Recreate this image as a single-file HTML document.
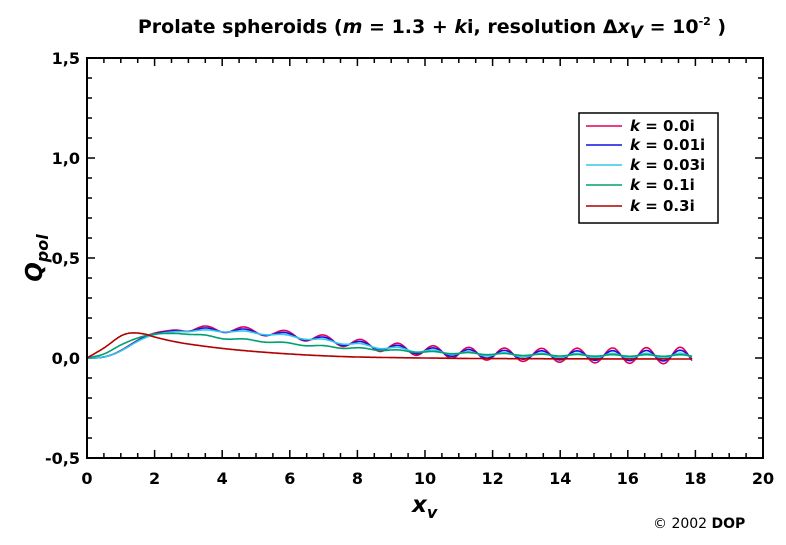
<!DOCTYPE html>
<html><head><meta charset="utf-8"><style>
html,body{margin:0;padding:0;background:#fff;}
svg{display:block;font-family:"DejaVu Sans","Liberation Sans",sans-serif;}
</style></head><body>
<svg id="s" width="786" height="545" viewBox="0 0 786 545" xmlns="http://www.w3.org/2000/svg">
<rect width="786" height="545" fill="#fff"/>
<text x="432" y="33" text-anchor="middle" font-size="19" font-weight="bold">Prolate spheroids (<tspan font-style="italic">m</tspan> = 1.3 + <tspan font-style="italic">k</tspan>i, resolution Δ<tspan font-style="italic">x</tspan><tspan font-style="italic" dy="5" font-size="17">V</tspan><tspan dy="-5"> = 10</tspan><tspan dy="-8" font-size="11">-2</tspan><tspan dy="8"> )</tspan></text>
<g id="ax"></g>
<g id="series" fill="none" stroke-width="1.6"></g>
<rect x="87" y="58" width="676" height="400" fill="none" stroke="#000" stroke-width="2"/>
<g font-size="16" font-weight="bold" id="lab"></g>
<text x="412" y="512" font-size="23" font-weight="bold" font-style="italic">x<tspan font-size="16" dy="6">v</tspan></text>
<text transform="translate(42,258) rotate(-90)" text-anchor="middle" font-size="23" font-weight="bold" font-style="italic">Q<tspan font-size="16" dy="6">pol</tspan></text>
<text x="653" y="528" font-size="14">© 2002  <tspan font-weight="bold">DOP</tspan></text>
<rect x="579" y="113" width="139" height="110" fill="#fff" stroke="#000" stroke-width="1.5"/>
<g font-size="15" font-weight="bold" id="leg"></g>
</svg>
<script>
const NS="http://www.w3.org/2000/svg";
const X=x=>87+x*33.8, Y=y=>358-y*200;
function el(p,t,a,txt){const e=document.createElementNS(NS,t);for(const k in a)e.setAttribute(k,a[k]);if(txt!=null)e.textContent=txt;document.getElementById(p).appendChild(e);return e;}
let d="";
for(let i=0;i<=40;i++){const x=X(i*0.5);const L=i%4==0?8:5;d+=`M${x} 458v-${L}M${x} 58v${L}`;}
for(let i=0;i<=20;i++){const y=358-(i-5)*20;const L=i%5==0?8:5;d+=`M87 ${y}h${L}M763 ${y}h-${L}`;}
el("ax","path",{d:d,stroke:"#000","stroke-width":1.5,fill:"none"});
for(let i=0;i<=10;i++)el("lab","text",{x:X(i*2),y:484,"text-anchor":"middle"},String(i*2));
["-0,5","0,0","0,5","1,0","1,5"].forEach((t,i)=>el("lab","text",{x:80,y:Y(-0.5+i*0.5)+6,"text-anchor":"end"},t));
function sm(a,b,x){let t=Math.min(1,Math.max(0,(x-a)/(b-a)));return t*t*(3-2*t);}
function cr(pts){return x=>{let i=0;while(i<pts.length-2&&x>pts[i+1][0])i++;const p0=pts[Math.max(0,i-1)],p1=pts[i],p2=pts[i+1],p3=pts[Math.min(pts.length-1,i+2)];const t=(x-p1[0])/(p2[0]-p1[0]);const m1=(p2[1]-p0[1])/(p2[0]-p0[0])*(p2[0]-p1[0]),m2=(p3[1]-p1[1])/(p3[0]-p1[0])*(p2[0]-p1[0]);const t2=t*t,t3=t2*t;return (2*t3-3*t2+1)*p1[1]+(t3-2*t2+t)*m1+(-2*t3+3*t2)*p2[1]+(t3-t2)*m2;};}
const peaks=[2.3,3.5,4.65,5.85,7.0,8.1,9.2,10.25,11.3,12.35,13.45,14.5,15.55,16.55,17.55,18.55];
const nf=cr(peaks.map((p,i)=>[p,i]));
function osc(x,amp){const A=0.012+0.0019*(x-2);return amp*A*Math.cos(2*Math.PI*nf(x))*sm(2.4,3.2,x);}
function kf(amp,mlow){return x=>{const rise=0.125*(1-Math.exp(-Math.pow(x/1.4,3)));const mean=0.012+0.133*Math.exp(-Math.pow((x-3.5)/5,2));const m=x<3?rise*(mean/0.125*sm(0,3,x)+(1-sm(0,3,x))):mean;return m*mlow+osc(x,amp);};}
const g10=cr([[0,0],[0.5,0.02],[1,0.065],[1.5,0.1],[2,0.12],[3,0.12],[4,0.1],[5,0.087],[6,0.072],[7,0.058],[8,0.048],[10,0.03],[12,0.02],[14,0.014],[18,0.012]]);
const g30=cr([[0,0],[0.5,0.05],[1,0.11],[1.3,0.125],[1.7,0.12],[2,0.105],[2.5,0.085],[3,0.07],[4,0.048],[5,0.032],[6,0.02],[7,0.011],[8,0.005],[10,0],[12,-0.003],[18,-0.005]]);
const series=[
 ["#e0005a",kf(1,1)],["#1010e0",kf(0.65,0.97)],["#30c8e8",kf(0.3,0.94)],
 ["#00a070",x=>g10(x)+0.004*Math.cos(2*Math.PI*nf(x))*sm(2.5,3.5,x)],["#b00000",g30]];
series.forEach(([c,f])=>{let p="";for(let x=0;x<=17.9;x+=0.02)p+=(p?"L":"M")+X(x).toFixed(1)+" "+Y(f(x)).toFixed(1);el("series","path",{d:p,stroke:c});});
const labs=["0.0i","0.01i","0.03i","0.1i","0.3i"];
[126,145,165,185,206].forEach((y,i)=>{el("leg","line",{x1:586,x2:622,y1:y,y2:y,stroke:series[i][0],"stroke-width":1.6});const t=el("leg","text",{x:630,y:y+5});t.innerHTML='<tspan font-style="italic">k</tspan> = '+labs[i];});
</script>
</body></html>
